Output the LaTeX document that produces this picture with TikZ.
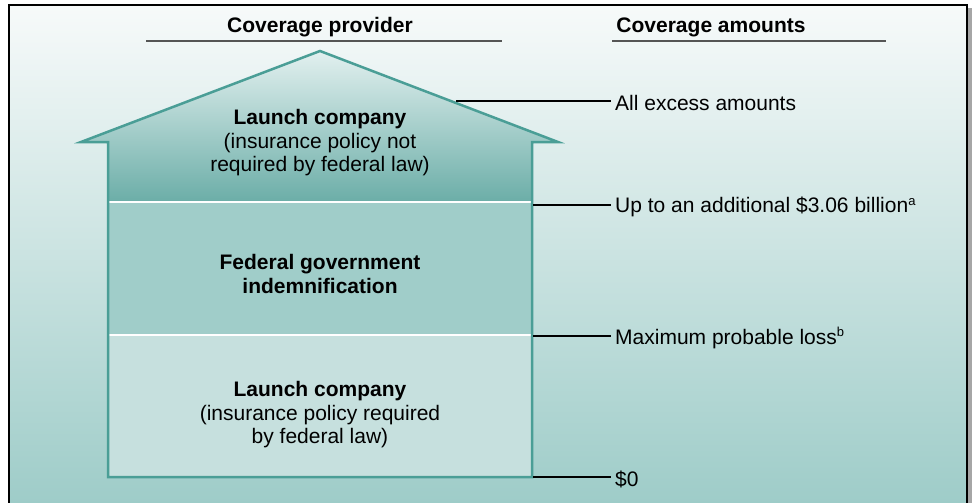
\documentclass[tikz,border=0pt]{standalone}
\usepackage{fontspec}
\setmainfont{Liberation Sans}
\definecolor{bgtop}{HTML}{F7FAFA}
\definecolor{bgbot}{HTML}{9CCBC7}
\definecolor{rooftop}{HTML}{E2F0EF}
\definecolor{roofbot}{HTML}{6CAEA8}
\definecolor{midfill}{HTML}{A0CDC9}
\definecolor{lowfill}{HTML}{C6E0DE}
\definecolor{teal}{HTML}{4A9E96}
\definecolor{rulegray}{HTML}{555555}
\newcommand{\supr}[1]{\textsuperscript{\fontsize{13}{13}\selectfont #1}}
\tikzset{
  txt/.style={font=\fontsize{21}{23.5}\selectfont, inner sep=0pt, align=center},
  lbl/.style={font=\fontsize{21}{23.5}\selectfont, inner sep=0pt, anchor=west},
  hdr/.style={font=\fontsize{21}{23.5}\selectfont\bfseries, inner sep=0pt},
  tick/.style={draw=black, line width=1.5pt},
  hrule/.style={draw=rulegray, line width=2pt},
}
\begin{document}
\begin{tikzpicture}[x=1pt,y=-1pt]
\useasboundingbox (0,0) rectangle (972,503);
\begin{scope}
\clip (0,0) rectangle (972,503);
\fill[white] (0,0) rectangle (972,503);
\fill[gray!70] (968,8) rectangle (972,510);
\shade[top color=bgtop, bottom color=bgbot, draw=black, line width=1.2pt] (9,5) rectangle (967,515);
\end{scope}
% headers
\node[hdr] (hprov) at (320,27) {Coverage provider};
\node[hdr] (hamt) at (711,27) {Coverage amounts};
\draw[hrule] (146,41) -- (502,41);
\draw[hrule] (612,41) -- (886,41);
% house fills
\shade[top color=rooftop, bottom color=roofbot] (108,201) -- (108,142) -- (81,142) -- (320,51) -- (558,142) -- (532,142) -- (532,201) -- cycle;
\fill[midfill] (108,201) rectangle (532,335);
\fill[lowfill] (108,335) rectangle (532,477);
\draw[white, line width=2pt] (108,202) -- (532,202);
\draw[white, line width=2pt] (108,335) -- (532,335);
\draw[teal, line width=2.5pt, line join=miter] (108,477) -- (108,142) -- (81,142) -- (320,51) -- (558,142) -- (532,142) -- (532,477) -- cycle;
% layer texts
\node[txt] (top) at (320,143) {\textbf{Launch company}\\(insurance policy not\\required by federal law)};
\node[txt] (mid) at (320,274) {\textbf{Federal government}\\\textbf{indemnification}};
\node[txt] (low) at (320,415) {\textbf{Launch company}\\(insurance policy required\\by federal law)};
% amount labels
\node[lbl] (l1) at (615,103) {All excess amounts};
\node[lbl] (l2) at (615,207) {Up to an additional \$3.06 billion\supr{a}};
\node[lbl] (l3) at (615,338) {Maximum probable loss\supr{b}};
\node[lbl] (l4) at (615,479) {\$0};
\coordinate (c1) at (456,101);
\coordinate (c2) at (533,205);
\coordinate (c3) at (533,336);
\coordinate (c4) at (533,477);
\draw[tick] (c1) -- ([xshift=-4pt]c1 -| l1.west);
\draw[tick] (c2) -- ([xshift=-4pt]c2 -| l2.west);
\draw[tick] (c3) -- ([xshift=-4pt]c3 -| l3.west);
\draw[tick] (c4) -- ([xshift=-4pt]c4 -| l4.west);
\end{tikzpicture}
\end{document}
